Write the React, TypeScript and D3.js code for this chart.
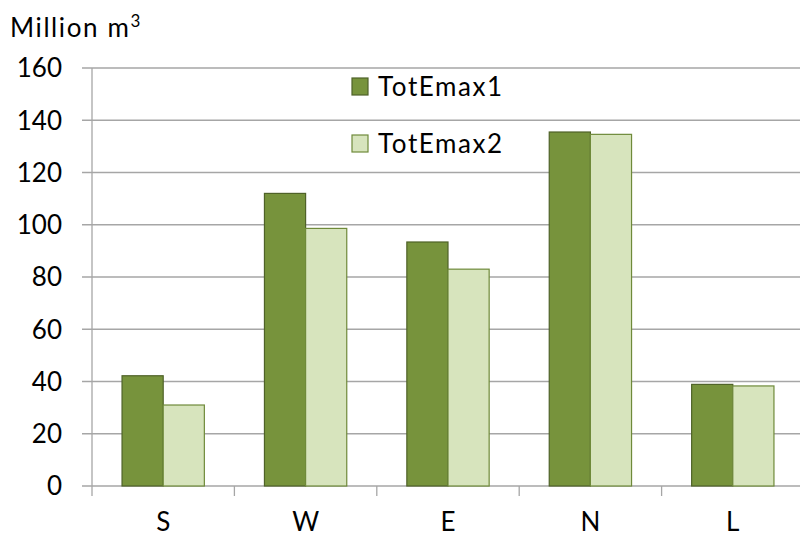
import React from "react";
import * as d3 from "d3";

const categories = ["S", "W", "E", "N", "L"];
const seriesNames = ["TotEmax1", "TotEmax2"];
const totEmax1 = [42.2, 112.0, 93.4, 135.5, 38.9];
const totEmax2 = [31.0, 98.6, 83.0, 134.6, 38.3];
const yTicks = [0, 20, 40, 60, 80, 100, 120, 140, 160];

const W = 800;
const H = 539;
const left = 92;
const right = 804;
const top = 68;
const bottom = 486;
const font = "Lato, 'Open Sans', sans-serif";
const fs = 26;
const fills = ["#77933c", "#d7e4bd"];
const strokes = ["#4f6228", "#6f8a3a"];

export default function App() {
  const x = d3.scaleBand<string>().domain(categories).range([left, right]).paddingInner(0).paddingOuter(0);
  const y = d3.scaleLinear().domain([0, 160]).range([bottom, top]);
  const inner = d3.scaleBand<string>().domain(seriesNames).range([0, x.bandwidth()]).paddingOuter(0.73).paddingInner(0);
  const series = [totEmax1, totEmax2];
  const boundaries = [...categories.map((c) => x(c) as number), right];

  return (
    <svg width={W} height={H} style={{ position: "absolute", left: 0, top: 0 }}>
      <rect width={W} height={H} fill="#fff" />
      {yTicks.map((t) => (
        <g key={t}>
          <line x1={82} x2={W} y1={y(t)} y2={y(t)} stroke="#a6a6a6" strokeWidth={1.3} />
          <text x={62} y={y(t)} dy="0.36em" textAnchor="end" fontFamily={font} fontSize={fs} fill="#000">
            {t}
          </text>
        </g>
      ))}
      <line x1={left} x2={left} y1={top} y2={bottom + 10} stroke="#a6a6a6" strokeWidth={1.3} />
      {boundaries.slice(1).map((b, i) => (
        <line key={i} x1={b} x2={b} y1={bottom} y2={bottom + 10} stroke="#a6a6a6" strokeWidth={1.3} />
      ))}
      {categories.map((c, ci) =>
        series.map((s, si) => (
          <rect
            key={c + si}
            x={(x(c) as number) + (inner(seriesNames[si]) as number)}
            y={y(s[ci])}
            width={inner.bandwidth()}
            height={bottom - y(s[ci])}
            fill={fills[si]}
            stroke={strokes[si]}
            strokeWidth={1.2}
          />
        ))
      )}
      {categories.map((c) => (
        <text key={c} x={(x(c) as number) + x.bandwidth() / 2} y={531} textAnchor="middle" fontFamily={font} fontSize={fs} fill="#000">
          {c}
        </text>
      ))}
      <text x={10} y={37} fontFamily={font} fontSize={fs} fill="#000" letterSpacing={1.6}>
        Million m<tspan dy={-10} fontSize={17}>3</tspan>
      </text>
      {seriesNames.map((n, i) => (
        <g key={n}>
          <rect x={352} y={78 + i * 57} width={16} height={17} fill={fills[i]} stroke={strokes[i]} strokeWidth={1.2} />
          <text x={378} y={87 + i * 57} dy="0.36em" fontFamily={font} fontSize={fs} fill="#000" letterSpacing={1.6}>
            {n}
          </text>
        </g>
      ))}
    </svg>
  );
}
